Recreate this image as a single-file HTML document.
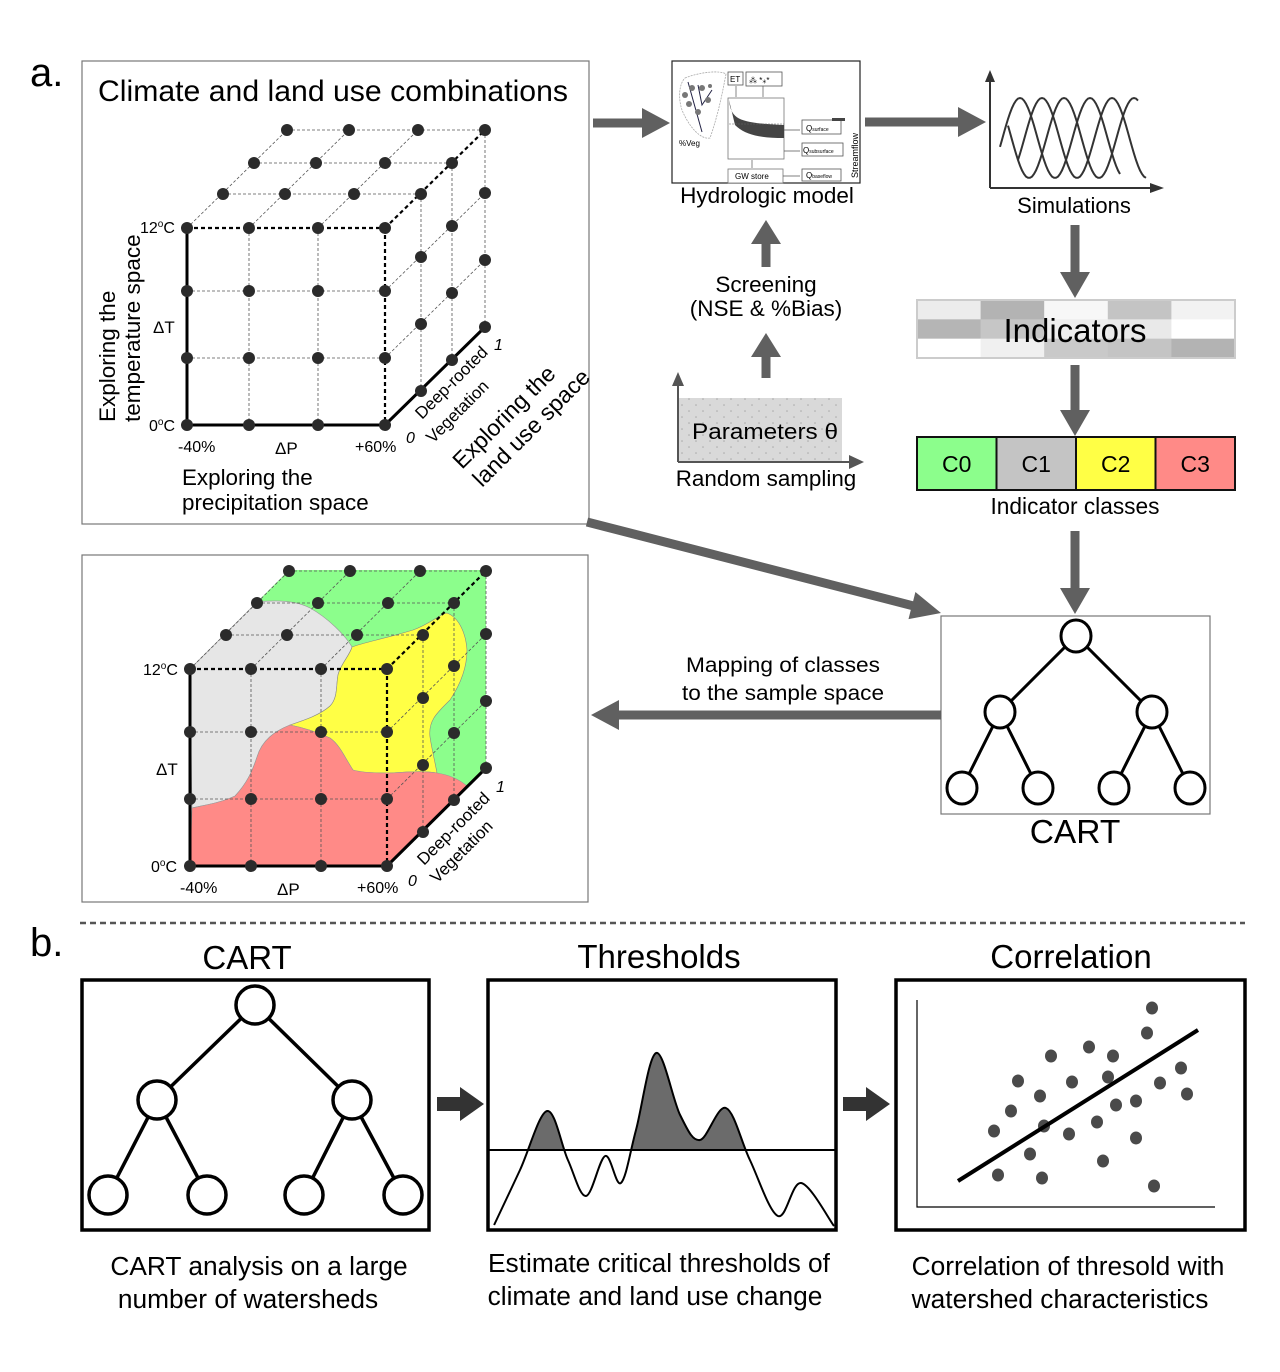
<!DOCTYPE html>
<html><head><meta charset="utf-8"><title>Framework diagram</title>
<style>
html,body{margin:0;padding:0;background:#fff;}
svg{display:block;font-family:"Liberation Sans",Arial,sans-serif;}
</style></head>
<body>
<svg id="root" width="1280" height="1372" viewBox="0 0 1280 1372" xmlns="http://www.w3.org/2000/svg">
<defs>
<pattern id="dots" width="14" height="12" patternUnits="userSpaceOnUse"><rect width="14" height="12" fill="#d9d9d9"/><circle cx="3" cy="3" r="0.8" fill="#aaa"/><circle cx="10" cy="9" r="0.8" fill="#aaa"/></pattern>
<clipPath id="aboveThr"><rect x="488" y="980" width="348" height="170"/></clipPath>
</defs>

<text x="30" y="86" font-size="40">a.</text>
<text x="30" y="956" font-size="40">b.</text>

<!-- Panel a cube box 1 -->
<rect x="82" y="61" width="507" height="463" fill="none" stroke="#777" stroke-width="1.2"/>
<text x="98" y="101" font-size="30" textLength="470" lengthAdjust="spacingAndGlyphs">Climate and land use combinations</text>
<g id="cube1"></g>
<g font-size="16">
<text x="140" y="233">12<tspan font-size="10" dy="-6">o</tspan><tspan dy="6">C</tspan></text>
<text x="149" y="431">0<tspan font-size="10" dy="-6">o</tspan><tspan dy="6">C</tspan></text>
<text x="153" y="333" font-size="17">ΔT</text>
<text x="178" y="452">-40%</text>
<text x="275" y="454" font-size="17">ΔP</text>
<text x="355" y="452">+60%</text>
<text x="406" y="443" font-style="italic">0</text>
<text x="494" y="350" font-style="italic">1</text>
<text font-size="17" transform="translate(422,420) rotate(-45)">Deep-rooted</text>
<text font-size="17" transform="translate(433,444) rotate(-45)">Vegetation</text>
<text font-size="23" transform="translate(462,470) rotate(-45)">Exploring the</text>
<text font-size="23" transform="translate(482,488) rotate(-45)">land use space</text>
<text font-size="22.5" transform="translate(115,422) rotate(-90)">Exploring the</text>
<text font-size="22.5" transform="translate(140,422) rotate(-90)">temperature space</text>
<text font-size="22.4" x="182" y="485">Exploring the</text>
<text font-size="22.4" x="182" y="510">precipitation space</text>
</g>

<!-- Panel a cube box 2 -->
<rect x="82" y="555" width="506" height="347" fill="none" stroke="#777" stroke-width="1.2"/>
<g>
<polygon fill="#8cfe8c" points="190,669 289,570 486,570 486,767 387,866 387,669"/>
<path fill="#e6e6e6" stroke="#999" stroke-width="0.6" d="M190,669 L257,602 C275,600 295,600 310,608 C328,618 345,635 352,647 C350,655 340,665 338,675 C336,685 338,698 330,706 C320,715 305,720 290,725 C275,731 262,740 257,757 C252,772 247,783 235,796 C220,803 205,805 192,808 Z"/>
<path fill="#ffff45" stroke="#888" stroke-width="0.6" d="M352,647 C365,642 380,640 413,630 C430,624 440,614 447,613 C460,618 466,635 467,650 C467,668 460,685 450,700 C438,712 428,720 430,737 C432,750 435,762 437,773 C420,770 400,773 387,773 C370,773 357,772 353,770 C345,758 340,745 330,738 C315,731 300,727 290,725 C305,720 320,715 330,706 C338,698 336,685 338,675 C340,665 350,655 352,647 Z"/>
<path fill="#ff8a87" stroke="#999" stroke-width="0.6" d="M192,808 C205,805 220,803 235,796 C247,783 252,772 257,757 C262,740 275,731 290,725 C300,727 315,731 330,738 C340,745 345,758 353,770 C360,772 372,773 387,773 C400,773 420,770 437,773 C450,775 460,780 467,786 L387,866 L190,866 Z"/>
</g>
<g id="cube2"></g>
<g font-size="16">
<text x="143" y="675">12<tspan font-size="10" dy="-6">o</tspan><tspan dy="6">C</tspan></text>
<text x="151" y="872">0<tspan font-size="10" dy="-6">o</tspan><tspan dy="6">C</tspan></text>
<text x="156" y="775" font-size="17">ΔT</text>
<text x="180" y="893">-40%</text>
<text x="277" y="895" font-size="17">ΔP</text>
<text x="357" y="893">+60%</text>
<text x="408" y="886" font-style="italic">0</text>
<text x="496" y="792" font-style="italic">1</text>
<text font-size="17" transform="translate(424,866) rotate(-45)">Deep-rooted</text>
<text font-size="17" transform="translate(437,884) rotate(-45)">Vegetation</text>
</g>

<!-- Hydrologic model -->
<g font-size="8">
<rect x="672" y="61" width="188" height="122" fill="#fff" stroke="#222" stroke-width="1.2"/>
<path d="M685,78 C700,72 720,70 726,74 C722,95 718,115 710,138 C700,140 688,125 682,110 C678,98 679,84 685,78 Z" fill="none" stroke="#aaa" stroke-dasharray="2,1" stroke-width="0.8"/>
<path d="M688,82 L702,132 M698,85 L702,105 L712,90" stroke="#224" stroke-width="1" fill="none"/>
<circle cx="685" cy="95" r="3" fill="#777"/><circle cx="692" cy="88" r="3" fill="#777"/><circle cx="702" cy="88" r="3" fill="#777"/><circle cx="708" cy="100" r="3" fill="#777"/><circle cx="689" cy="104" r="3" fill="#777"/><circle cx="698" cy="112" r="3" fill="#777"/><circle cx="710" cy="86" r="2" fill="#777"/>
<text x="679" y="146">%Veg</text>
<rect x="728" y="72" width="15" height="13" fill="#fff" stroke="#555" stroke-width="0.8"/><text x="730" y="82">ET</text>
<rect x="746" y="72" width="36" height="14" fill="#fff" stroke="#555" stroke-width="0.8"/><text x="749" y="83">⁂ *⁎*</text>
<rect x="728" y="98" width="56" height="61" fill="#fff" stroke="#777" stroke-width="0.8"/>
<path d="M729,100 C731,120 740,123 784,125 L784,138 C760,138 745,135 735,125 Z" fill="#444"/>
<line x1="729" y1="124" x2="784" y2="124" stroke="#666" stroke-dasharray="2,1" stroke-width="0.6"/>
<rect x="802" y="120" width="39" height="14" fill="#fff" stroke="#555" stroke-width="0.8"/><text x="806" y="131">Q<tspan font-size="5">surface</tspan></text>
<rect x="802" y="143" width="41" height="13" fill="#fff" stroke="#555" stroke-width="0.8"/><text x="803" y="153">Q<tspan font-size="5">subsurface</tspan></text>
<rect x="728" y="169" width="55" height="14" fill="#fff" stroke="#777" stroke-width="0.8"/><text x="735" y="179">GW store</text>
<rect x="802" y="169" width="39" height="12" fill="#fff" stroke="#555" stroke-width="0.8"/><text x="806" y="178">Q<tspan font-size="5">baseflow</tspan></text>
<path d="M784,130 L800,130 M784,151 L800,151 M783,176 L800,176 M736,86 L736,97 M763,86 L763,97 M752,160 L752,168" stroke="#555" stroke-width="0.7"/>
<rect x="832" y="118" width="13" height="3" fill="#444"/>
<text transform="translate(858,178) rotate(-90)" font-size="9">Streamflow</text>
</g>
<text x="767" y="203" font-size="22.5" text-anchor="middle">Hydrologic model</text>

<!-- Simulations -->
<g>
<path d="M990,188 L990,78 M990,188 L1152,188" stroke="#333" stroke-width="2" fill="none"/>
<polygon points="985,82 990,70 995,82" fill="#333"/>
<polygon points="1150,183 1164,188 1150,193" fill="#333"/>
<g id="waves" fill="none" stroke="#333" stroke-width="2"></g>
</g>
<text x="1074" y="213" font-size="22" text-anchor="middle">Simulations</text>

<!-- Screening -->
<text x="766" y="292" font-size="22.5" text-anchor="middle">Screening</text>
<text x="766" y="316" font-size="22.5" text-anchor="middle">(NSE &amp; %Bias)</text>

<!-- Parameters -->
<g>
<rect x="678" y="398" width="164" height="64" fill="url(#dots)"/>
<path d="M678,462 L678,382 M678,462 L852,462" stroke="#555" stroke-width="2" fill="none"/>
<polygon points="672,386 678,372 684,386" fill="#555"/>
<polygon points="849,455 864,462 849,469" fill="#555"/>
<text x="692" y="439" font-size="22.5" textLength="146" lengthAdjust="spacingAndGlyphs">Parameters θ</text>
</g>
<text x="766" y="486" font-size="22.4" text-anchor="middle">Random sampling</text>

<!-- Indicators -->
<g id="indicators"></g>
<text x="1075" y="342" font-size="33" text-anchor="middle">Indicators</text>

<!-- Classes -->
<g id="classes"></g>
<text x="1075" y="514" font-size="22.7" text-anchor="middle">Indicator classes</text>

<!-- CART top -->
<rect x="941" y="616" width="269" height="198" fill="#fff" stroke="#777" stroke-width="1.2"/>
<g id="tree1"></g>
<text x="1075" y="843" font-size="33.5" text-anchor="middle">CART</text>
<text x="783" y="672" font-size="21" text-anchor="middle" textLength="194" lengthAdjust="spacingAndGlyphs">Mapping of classes</text>
<text x="783" y="700" font-size="21" text-anchor="middle" textLength="202" lengthAdjust="spacingAndGlyphs">to the sample space</text>

<g id="arrows"></g>

<line x1="80" y1="923" x2="1245" y2="923" stroke="#555" stroke-width="2.5" stroke-dasharray="6,4"/>

<!-- Panel b -->
<text x="247" y="969" font-size="33" text-anchor="middle">CART</text>
<text x="659" y="968" font-size="33" text-anchor="middle">Thresholds</text>
<text x="1071" y="968" font-size="33" text-anchor="middle">Correlation</text>
<rect x="82" y="980" width="347" height="250" fill="none" stroke="#000" stroke-width="3.5"/>
<rect x="488" y="980" width="348" height="250" fill="none" stroke="#000" stroke-width="3.5"/>
<rect x="896" y="980" width="349" height="250" fill="none" stroke="#000" stroke-width="3.5"/>
<g id="tree2"></g>
<g id="thr"></g>
<g id="scatter"></g>
<polygon points="437,1097 460,1097 460,1087 484,1104 460,1121 460,1111 437,1111" fill="#333"/>
<polygon points="843,1097 866,1097 866,1087 890,1104 866,1121 866,1111 843,1111" fill="#333"/>
<g font-size="26.3" text-anchor="middle">
<text x="259" y="1275">CART analysis on a large</text>
<text x="248" y="1308">number of watersheds</text>
<text x="659" y="1272">Estimate critical thresholds of</text>
<text x="655" y="1305">climate and land use change</text>
<text x="1068" y="1275">Correlation of thresold with</text>
<text x="1060" y="1308">watershed characteristics</text>
</g>
</svg>
<script>
const NS='http://www.w3.org/2000/svg';
// ---- chart data ----
const indicatorShades=[['#ececec','#b3b3b3','#f7f7f7','#c4c4c4','#f2f2f2'],['#b5b5b5','#c6c6c6','#ededed','#e9e9e9','#ffffff'],['#ffffff','#f0f0f0','#c9c9c9','#c4c4c4','#b3b3b3']];
const classNames=['C0','C1','C2','C3'];
const classColors=['#8cfe8c','#c4c4c4','#ffff45','#ff8a87'];
const thrT=[0.006,0.082,0.161,0.222,0.275,0.331,0.377,0.421,0.480,0.550,0.608,0.684,0.754,0.836,0.904,1.0];
const thrV=[0,55,114,65,29,69,42,95,172,110,85,117,65,9,42,-1];
const thrLevel=75;
const scatterX=[235,230,134,172,196,101,155,191,264,243,270,123,94,219,199,77,127,152,180,219,113,186,81,125,237];
const scatterY=[199,174,151,160,151,126,125,130,139,124,113,111,96,106,102,76,81,73,85,69,53,46,32,29,21];
const fitX=[41,281];
const fitY=[26,177];

function el(tag,attrs,parent){const e=document.createElementNS(NS,tag);for(const k in attrs)e.setAttribute(k,attrs[k]);parent.appendChild(e);return e;}

// ---- cubes ----
function cube(gid,fx,fy,ddx,ddy){
  const g=document.getElementById(gid);
  const thin={stroke:'#555','stroke-width':0.8,'stroke-dasharray':'3,2',fill:'none'};
  const L=(x1,y1,x2,y2,a)=>{const l=el('line',Object.assign({x1,y1,x2,y2},a),g);};
  const n=fx.length-1, D=ddx.length-1;
  for(let i=1;i<n;i++) L(fx[i],fy[0],fx[i],fy[n],thin);
  for(let j=1;j<n;j++) L(fx[0],fy[j],fx[n],fy[j],thin);
  for(let i=0;i<n;i++) L(fx[i],fy[0],fx[i]+ddx[D],fy[0]+ddy[D],thin);
  for(let d=1;d<=D;d++) L(fx[0]+ddx[d],fy[0]+ddy[d],fx[n]+ddx[d],fy[0]+ddy[d],thin);
  for(let j=1;j<n;j++) L(fx[n],fy[j],fx[n]+ddx[D],fy[j]+ddy[D],thin);
  for(let d=1;d<=D;d++) L(fx[n]+ddx[d],fy[0]+ddy[d],fx[n]+ddx[d],fy[n]+ddy[d],thin);
  const thick={stroke:'#000','stroke-width':3,fill:'none'};
  const dash={stroke:'#000','stroke-width':2.2,'stroke-dasharray':'4,3',fill:'none'};
  L(fx[0],fy[0],fx[0],fy[n],thick);L(fx[0],fy[n],fx[n],fy[n],thick);
  L(fx[0],fy[0],fx[n],fy[0],dash);L(fx[n],fy[0],fx[n],fy[n],dash);
  L(fx[n],fy[0],fx[n]+ddx[D],fy[0]+ddy[D],dash);
  L(fx[n],fy[n],fx[n]+ddx[D],fy[n]+ddy[D],thick);
  const dot=(x,y)=>{const c=el('circle',{cx:x,cy:y,r:6,fill:'#2b2b2b'},g);};
  for(let i=0;i<=n;i++)for(let j=0;j<=n;j++)dot(fx[i],fy[j]);
  for(let d=1;d<=D;d++){for(let i=0;i<=n;i++)dot(fx[i]+ddx[d],fy[0]+ddy[d]);for(let j=1;j<=n;j++)dot(fx[n]+ddx[d],fy[j]+ddy[d]);}
}
cube('cube1',[187,249,318,385],[228,291,358,425],[0,36,67,100],[0,-34,-65,-98]);
cube('cube2',[190,251,321,387],[669,732,799,866],[0,36,67,99],[0,-34,-66,-98]);

// ---- waves ----
const wg=document.getElementById('waves');
[[1000,1120,1020,70],[1018,1146,1042,70],[1008,1138,1064,70]].forEach((w,k)=>{
  let d='';for(let x=w[0];x<=w[1];x+=2){const y=138-40*Math.cos(2*Math.PI*(x-w[2])/w[3]);d+=(d?'L':'M')+x+','+y.toFixed(1);}
  const p=el('path',{d},wg);
});

// ---- indicators ----
const ig=document.getElementById('indicators');
const iw=318/5, ih=58/3;
indicatorShades.forEach((row,r)=>row.forEach((c,k)=>{const e=el('rect',{x:917+k*iw,y:300+r*ih,width:iw+0.5,height:ih+0.5,fill:c},ig);}));
el('rect',{x:917,y:300,width:318,height:58,fill:'none',stroke:'#ccc','stroke-width':2},ig);

// ---- classes ----
const cg=document.getElementById('classes');
classNames.forEach((n,k)=>{const w=318/4;const r=el('rect',{x:917+k*w,y:437,width:w,height:53,fill:classColors[k],stroke:'#111','stroke-width':2},cg);
const t=el('text',{x:917+k*w+w/2,y:472,'font-size':23,'text-anchor':'middle'},cg);t.textContent=n;});

// ---- trees ----
function tree(gid,root,mid,leaves,rx,ry,sw){
  const g=document.getElementById(gid);
  const ln=(a,b)=>{const l=el('line',{x1:a[0],y1:a[1],x2:b[0],y2:b[1],stroke:'#000','stroke-width':sw},g);};
  mid.forEach(m=>ln(root,m));leaves.forEach((l,i)=>ln(mid[i<2?0:1],l));
  [root,...mid,...leaves].forEach(p=>{const e=el('ellipse',{cx:p[0],cy:p[1],rx,ry,fill:'#fff',stroke:'#000','stroke-width':sw},g);});
}
tree('tree1',[1076,636],[[1000,712],[1152,712]],[[962,788],[1038,788],[1114,788],[1190,788]],15,16,3);
tree('tree2',[255,1005],[[157,1100],[352,1100]],[[108,1195],[207,1195],[304,1195],[403,1195]],19,19,3.5);

// ---- threshold chart ----
const tg=document.getElementById('thr');
const tx=t=>492+t*342, ty=v=>1225-v;
const pts=thrT.map((t,i)=>[tx(t),ty(thrV[i])]);
function smooth(p){let d='M'+p[0][0].toFixed(1)+','+p[0][1].toFixed(1);for(let i=0;i<p.length-1;i++){const p0=p[i-1]||p[i],p1=p[i],p2=p[i+1],p3=p[i+2]||p2;
 const c1=[p1[0]+(p2[0]-p0[0])/6,p1[1]+(p2[1]-p0[1])/6],c2=[p2[0]-(p3[0]-p1[0])/6,p2[1]-(p3[1]-p1[1])/6];
 d+=`C${c1[0].toFixed(1)},${c1[1].toFixed(1)} ${c2[0].toFixed(1)},${c2[1].toFixed(1)} ${p2[0].toFixed(1)},${p2[1].toFixed(1)}`;}return d;}
const cd=smooth(pts);
const fa=el('path',{d:cd+`L${tx(1)},1228 L${tx(0)},1228 Z`,fill:'#6b6b6b','clip-path':'url(#aboveThr)'},tg);

const tl=el('line',{x1:488,x2:836,y1:ty(thrLevel),y2:ty(thrLevel),stroke:'#000','stroke-width':2},tg);

const cp=el('path',{d:cd,fill:'none',stroke:'#000','stroke-width':2},tg);


// ---- scatter ----
const sg=document.getElementById('scatter');
const sx=v=>917+v, sy=v=>1207-v;
const ax=el('path',{d:'M917,1000 L917,1207 L1215,1207',fill:'none',stroke:'#000','stroke-width':1.2},sg);

scatterX.forEach((v,i)=>{const c=el('ellipse',{cx:sx(v),cy:sy(scatterY[i]),rx:6,ry:6.5,fill:'#4a4a4a'},sg);});
const fl=el('line',{x1:sx(fitX[0]),y1:sy(fitY[0]),x2:sx(fitX[1]),y2:sy(fitY[1]),stroke:'#000','stroke-width':4},sg);


// ---- arrows ----
const ag=document.getElementById('arrows');
function arrow(x1,y1,x2,y2,w,hw,hl,col,name){
  const dx=x2-x1,dy=y2-y1,L=Math.hypot(dx,dy),ux=dx/L,uy=dy/L,nx=-uy,ny=ux;
  const bx=x2-ux*hl,by=y2-uy*hl;
  const P=[[x1+nx*w/2,y1+ny*w/2],[bx+nx*w/2,by+ny*w/2],[bx+nx*hw/2,by+ny*hw/2],[x2,y2],[bx-nx*hw/2,by-ny*hw/2],[bx-nx*w/2,by-ny*w/2],[x1-nx*w/2,y1-ny*w/2]];
  const p=el('polygon',{points:P.map(q=>q[0].toFixed(1)+','+q[1].toFixed(1)).join(' '),fill:col},ag);
  
}
const G='#606060';
arrow(593,123,670,123,9,30,28,G,'arrow-to-model');
arrow(865,122,986,122,9,30,28,G,'arrow-to-simulations');
arrow(766,378,766,333,9,30,24,G,'arrow-to-screening');
arrow(766,267,766,220,9,30,24,G,'arrow-to-model-up');
arrow(1075,225,1075,298,9,30,26,G,'arrow-to-indicators');
arrow(1075,365,1075,436,9,30,26,G,'arrow-to-classes');
arrow(1075,531,1075,614,9,30,26,G,'arrow-to-cart');
arrow(587,522,941,613,9,28,30,G,'arrow-combinations-to-cart');
arrow(941,715,591,715,9,30,28,G,'arrow-mapping');
</script>
</body></html>
